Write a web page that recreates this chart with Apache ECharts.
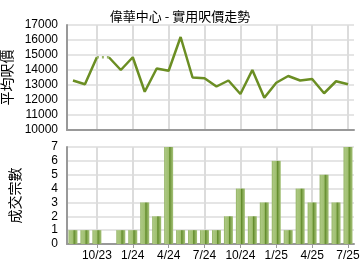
<!DOCTYPE html>
<html>
<head>
<meta charset="utf-8">
<script src="https://cdn.jsdelivr.net/npm/echarts@6/dist/echarts.min.js"></script>
<style>
  html, body { margin: 0; padding: 0; background: #fff; }
  #chart { width: 360px; height: 270px; }
</style>
</head>
<body>
<div id="chart"></div>
<script>
// 月份 (8/23 - 7/25)
var months = ['8/23','9/23','10/23','11/23','12/23','1/24','2/24','3/24','4/24','5/24','6/24','7/24',
              '8/24','9/24','10/24','11/24','12/24','1/25','2/25','3/25','4/25','5/25','6/25','7/25'];
// 平均呎價
var prices = [13300, 13050, 14850, 14850, 14000, 14850, 12550, 14100, 13950, 16200, 13500, 13450,
              12900, 13300, 12400, 14000, 12150, 13150, 13600, 13300, 13400, 12450, 13250, 13050];
// 成交宗數
var deals = [1, 1, 1, 0, 1, 1, 3, 2, 7, 1, 1, 1, 1, 2, 4, 2, 3, 6, 1, 4, 3, 5, 3, 7];

// 無成交月份用虛線連接
function solidPart(from, to) {
    return prices.map(function (v, i) { return (i >= from && i <= to) ? v : null; });
}
var gapIdx = deals.indexOf(0);
var priceA = solidPart(0, gapIdx - 1);
var priceB = solidPart(gapIdx, prices.length - 1);
var priceDot = solidPart(gapIdx - 1, gapIdx);

var labelShown = function (idx) { return idx % 3 === 2; };
var gridColor = '#dcdcdc';
var txt = { color: '#000', fontSize: 12, fontFamily: 'Arial, "Liberation Sans", sans-serif' };

var myChart = echarts.init(document.getElementById('chart'));

var barColor = new echarts.graphic.LinearGradient(0, 0, 1, 0, [
    { offset: 0, color: '#8fb05e' },
    { offset: 0.15, color: '#abc781' },
    { offset: 0.5, color: '#a0bf70' },
    { offset: 0.62, color: '#628c2c' },
    { offset: 0.78, color: '#86a854' },
    { offset: 1, color: '#a5c279' }
]);

var option = {
    animation: false,
    title: {
        text: '偉華中心 - 實用呎價走勢',
        left: 'center',
        top: 5,
        textStyle: { fontSize: 13, fontWeight: 'normal', color: '#000',
                     fontFamily: '"Noto Sans CJK TC", sans-serif' }
    },
    grid: [
        { left: 67, right: 6, top: 25, height: 105, outerBoundsMode: 'none' },
        { left: 67, right: 6, top: 147, height: 97, outerBoundsMode: 'none' }
    ],
    xAxis: [
        {
            gridIndex: 0, type: 'category', data: months, boundaryGap: true,
            axisLine: { lineStyle: { color: '#999', width: 2 } },
            axisTick: { show: false },
            axisLabel: { show: false },
            splitLine: { show: true, interval: labelShown, alignWithLabel: true,
                         lineStyle: { color: gridColor, width: 2 } }
        },
        {
            gridIndex: 1, type: 'category', data: months, boundaryGap: true,
            axisLine: { lineStyle: { color: '#999', width: 2 } },
            axisTick: { show: true, interval: labelShown, alignWithLabel: true, length: 4,
                        lineStyle: { color: '#999' } },
            axisLabel: Object.assign({ interval: labelShown, margin: 6 }, txt),
            splitLine: { show: true, interval: labelShown, alignWithLabel: true,
                         lineStyle: { color: gridColor, width: 2 } }
        }
    ],
    yAxis: [
        {
            gridIndex: 0, type: 'value', min: 10000, max: 17000, interval: 1000,
            name: '平均呎價', nameLocation: 'middle', nameGap: 45, nameRotate: 90,
            nameTextStyle: { fontSize: 14, color: '#000', fontFamily: '"Noto Sans CJK TC", sans-serif' },
            axisLine: { show: true, lineStyle: { color: '#999', width: 2 } },
            axisTick: { show: false },
            axisLabel: Object.assign({ margin: 9, formatter: function (v) { return String(v); } }, txt),
            splitLine: { lineStyle: { color: gridColor, width: 1.5 } }
        },
        {
            gridIndex: 1, type: 'value', min: 0, max: 7, interval: 1,
            name: '成交宗數', nameLocation: 'middle', nameGap: 45, nameRotate: 90,
            nameTextStyle: { fontSize: 14, color: '#000', fontFamily: '"Noto Sans CJK TC", sans-serif' },
            axisLine: { show: true, lineStyle: { color: '#999', width: 2 } },
            axisTick: { show: false },
            axisLabel: Object.assign({ margin: 9 }, txt),
            splitLine: { lineStyle: { color: gridColor, width: 1.5 } }
        }
    ],
    series: [
        { type: 'line', xAxisIndex: 0, yAxisIndex: 0, data: priceA, symbol: 'none',
          lineStyle: { color: '#6b8e23', width: 2.5 } },
        { type: 'line', xAxisIndex: 0, yAxisIndex: 0, data: priceB, symbol: 'none',
          lineStyle: { color: '#6b8e23', width: 2.5 } },
        { type: 'line', xAxisIndex: 0, yAxisIndex: 0, data: priceDot, symbol: 'none',
          lineStyle: { color: '#9ab56a', width: 2.5, type: [2, 3] } },
        { type: 'bar', xAxisIndex: 1, yAxisIndex: 1, data: deals, barWidth: 9,
          itemStyle: { color: barColor } }
    ]
};

myChart.setOption(option);
</script>
</body>
</html>
